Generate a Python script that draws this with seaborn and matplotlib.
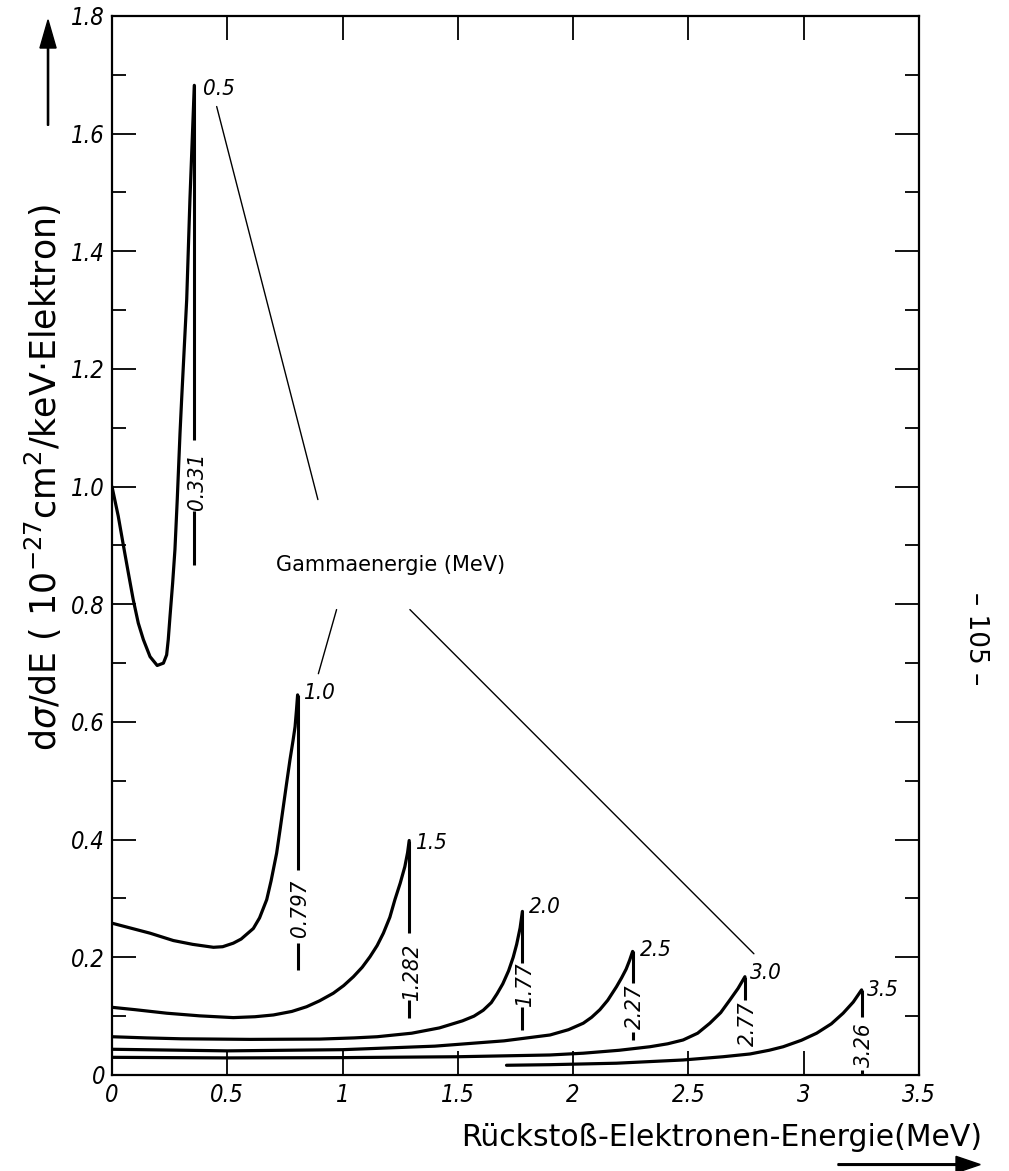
import numpy as np
import pandas as pd
import matplotlib
matplotlib.use("Agg")
import matplotlib.pyplot as plt
import seaborn as sns

# ---------------- data ----------------
gamma_energies = ["0.5", "1.0", "1.5", "2.0", "2.5", "3.0", "3.5"]

e_05 = [0.0, 0.027, 0.049, 0.071, 0.092, 0.114, 0.136, 0.165, 0.196, 0.223, 0.237,
        0.244, 0.2515, 0.263, 0.273, 0.283, 0.295, 0.302, 0.324, 0.338, 0.357]
s_05 = [1.0, 0.950, 0.901, 0.853, 0.808, 0.768, 0.740, 0.711, 0.696, 0.700, 0.714,
        0.740, 0.779, 0.836, 0.893, 0.978, 1.091, 1.148, 1.318, 1.488, 1.682]

e_10 = [0.0, 0.165, 0.266, 0.35, 0.44, 0.48, 0.526, 0.56, 0.613, 0.64, 0.671, 0.69,
        0.714, 0.73, 0.743, 0.757, 0.772, 0.785, 0.794, 0.80, 0.805]
s_10 = [0.258, 0.241, 0.2285, 0.222, 0.217, 0.218, 0.224, 0.231, 0.249, 0.267, 0.298, 0.33,
        0.377, 0.42, 0.456, 0.495, 0.536, 0.568, 0.592, 0.62, 0.646]

e_15 = [0.0, 0.1, 0.237, 0.38, 0.526, 0.62, 0.70, 0.78, 0.844, 0.90, 0.96, 1.005, 1.047,
        1.085, 1.119, 1.15, 1.177, 1.205, 1.227, 1.25, 1.27, 1.282, 1.289]
s_15 = [0.115, 0.111, 0.105, 0.1005, 0.0975, 0.099, 0.102, 0.108, 0.116, 0.126, 0.139, 0.152, 0.167,
        0.183, 0.201, 0.22, 0.241, 0.268, 0.298, 0.326, 0.354, 0.378, 0.3985]

e_20 = [0.0, 0.15, 0.3, 0.6, 0.9, 1.05, 1.15, 1.3, 1.42, 1.52, 1.57, 1.61, 1.645,
        1.67, 1.695, 1.72, 1.74, 1.755, 1.77, 1.78]
s_20 = [0.065, 0.063, 0.0615, 0.0605, 0.061, 0.063, 0.065, 0.071, 0.080, 0.092, 0.100, 0.110, 0.123,
        0.138, 0.155, 0.177, 0.20, 0.222, 0.25, 0.278]

e_25 = [0.0, 0.5, 1.0, 1.4, 1.7, 1.9, 1.98, 2.044, 2.08, 2.116, 2.15, 2.188, 2.21, 2.23, 2.245, 2.258]
s_25 = [0.0437, 0.041, 0.043, 0.049, 0.058, 0.068, 0.077, 0.088, 0.098, 0.111, 0.127, 0.150, 0.165, 0.18, 0.195, 0.21]

e_30 = [0.0, 0.5, 1.0, 1.5, 1.9, 2.044, 2.2, 2.333, 2.41, 2.477, 2.54, 2.593, 2.64, 2.68, 2.715, 2.745]
s_30 = [0.030, 0.029, 0.0295, 0.031, 0.034, 0.037, 0.042, 0.048, 0.053, 0.0595, 0.071, 0.088, 0.106, 0.1276, 0.147, 0.167]

e_35 = [1.711, 1.9, 2.188, 2.477, 2.65, 2.767, 2.85, 2.911, 2.99, 3.056, 3.12, 3.171, 3.215, 3.251]
s_35 = [0.0165, 0.0175, 0.020, 0.0255, 0.031, 0.0357, 0.042, 0.048, 0.059, 0.071, 0.087, 0.105, 0.124, 0.1446]

# Compton edges (vertical markers) and their labels
edge_labels = ["0.331", "0.797", "1.282", "1.77", "2.27", "2.77", "3.26"]
edge_x = [0.357, 0.805, 1.289, 1.78, 2.258, 2.745, 3.251]
edge_top = [1.682, 0.646, 0.3985, 0.278, 0.21, 0.167, 0.1446]
edge_top_end = [1.08, 0.349, 0.241, 0.19, 0.156, 0.128, 0.099]
edge_label_y = [1.009, 0.284, 0.175, 0.153, 0.116, 0.088, 0.051]
edge_low_start = [0.958, 0.224, 0.128, 0.116, 0.073, None, 0.008]
edge_low_end = [0.867, 0.179, 0.097, 0.077, 0.060, None, 0.0]

# gamma energy labels at the peaks
peak_label_x = [0.395, 0.83, 1.314, 1.81, 2.29, 2.767, 3.274]
peak_label_y = [1.675, 0.650, 0.395, 0.285, 0.213, 0.173, 0.145]

# leader lines from the "Gammaenergie (MeV)" caption
leader_x0 = [0.454, 0.974, 1.292]
leader_y0 = [1.646, 0.791, 0.791]
leader_x1 = [0.893, 0.895, 2.784]
leader_y1 = [0.978, 0.682, 0.206]
caption_x, caption_y = 1.206, 0.867

x_ticks = [0, 0.5, 1, 1.5, 2, 2.5, 3, 3.5]
x_tick_labels = ["0", "0.5", "1", "1.5", "2", "2.5", "3", "3.5"]
y_ticks = [0, 0.2, 0.4, 0.6, 0.8, 1.0, 1.2, 1.4, 1.6, 1.8]
y_tick_labels = ["0", "0.2", "0.4", "0.6", "0.8", "1.0", "1.2", "1.4", "1.6", "1.8"]

# ---------------- build long table ----------------
curves_e = [e_05, e_10, e_15, e_20, e_25, e_30, e_35]
curves_s = [s_05, s_10, s_15, s_20, s_25, s_30, s_35]
frames = []
for g, ee, ss in zip(gamma_energies, curves_e, curves_s):
    frames.append(pd.DataFrame({"E": ee, "sigma": ss, "gamma": g}))
df = pd.concat(frames, ignore_index=True)

# ---------------- plotting ----------------
sns.set_theme(style="ticks")
plt.rcParams['font.family'] = ['DejaVu Sans']
plt.rcParams['axes.linewidth'] = 1.6
plt.rcParams['text.color'] = 'black'
plt.rcParams['axes.labelcolor'] = 'black'
plt.rcParams['xtick.color'] = 'black'
plt.rcParams['ytick.color'] = 'black'

italic = dict(family=['DejaVu Sans'], style='italic', stretch='condensed')

fig = plt.figure(figsize=(10.09, 11.71), dpi=100)
ax = fig.add_axes([0.111, 0.0820, 0.7998, 0.9044])

sns.lineplot(data=df, x="E", y="sigma", units="gamma", estimator=None,
             sort=False, color="black", linewidth=2.3, ax=ax, legend=False)

# Compton edge markers
for i in range(len(edge_x)):
    ax.plot([edge_x[i], edge_x[i]], [edge_top[i], edge_top_end[i]],
            color="black", lw=2.2, solid_capstyle="butt")
    if edge_low_start[i] is not None:
        ax.plot([edge_x[i], edge_x[i]], [edge_low_start[i], edge_low_end[i]],
                color="black", lw=2.2, solid_capstyle="butt")
    ax.text(edge_x[i] + 0.012, edge_label_y[i], edge_labels[i], rotation=90,
            ha="center", va="center", fontsize=16, color="black", **italic)

for i in range(len(gamma_energies)):
    ax.text(peak_label_x[i], peak_label_y[i], gamma_energies[i],
            ha="left", va="center", fontsize=16, color="black", **italic)

for i in range(len(leader_x0)):
    ax.plot([leader_x0[i], leader_x1[i]], [leader_y0[i], leader_y1[i]],
            color="black", lw=1.0)

ax.text(caption_x, caption_y, "Gammaenergie (MeV)", ha="center", va="center",
        fontsize=15, color="black")

ax.set_xlim(0, 3.5)
ax.set_ylim(0, 1.8)
ax.set_xticks(x_ticks)
ax.set_xticklabels(x_tick_labels, fontsize=17, **italic)
ax.set_yticks(y_ticks)
ax.set_yticklabels(y_tick_labels, fontsize=17, **italic)
ax.set_yticks(np.arange(0.1, 1.8, 0.2), minor=True)
ax.tick_params(axis="both", which="major", direction="in", top=True, right=True,
               length=17, width=1.3, colors="black")
ax.tick_params(axis="x", which="major", pad=6)
ax.tick_params(axis="y", which="major", pad=5)
ax.tick_params(axis="y", which="minor", direction="in", left=True, right=True,
               length=10, width=1.3)
ax.set_xlabel("")
ax.set_ylabel("")
for sp in ax.spines.values():
    sp.set_visible(True)
    sp.set_color("black")

# axis titles with arrows
fig.text(0.043, 0.592,
         r"d$\sigma$/dE ( 10$^{-27}$cm$^{2}$/keV$\cdot$Elektron)",
         rotation=90, ha="center", va="center", fontsize=25, color="black")
fig.patches.append(matplotlib.patches.FancyArrow(
    0.0476, 0.893, 0, 0.090, width=0.0012, head_width=0.016,
    head_length=0.024, length_includes_head=True, color="black",
    transform=fig.transFigure))

fig.text(0.973, 0.029, "Rückstoß-Elektronen-Energie(MeV)", ha="right",
         va="center", fontsize=21.5, color="black")
fig.patches.append(matplotlib.patches.FancyArrow(
    0.8305, 0.0055, 0.141, 0, width=0.0014, head_width=0.014,
    head_length=0.024, length_includes_head=True, color="black",
    transform=fig.transFigure))

fig.text(0.967, 0.455, "– 105 –", rotation=-90, ha="center", va="center",
         fontsize=19, color="black")

fig.savefig("out.png", dpi=100, facecolor="white")
